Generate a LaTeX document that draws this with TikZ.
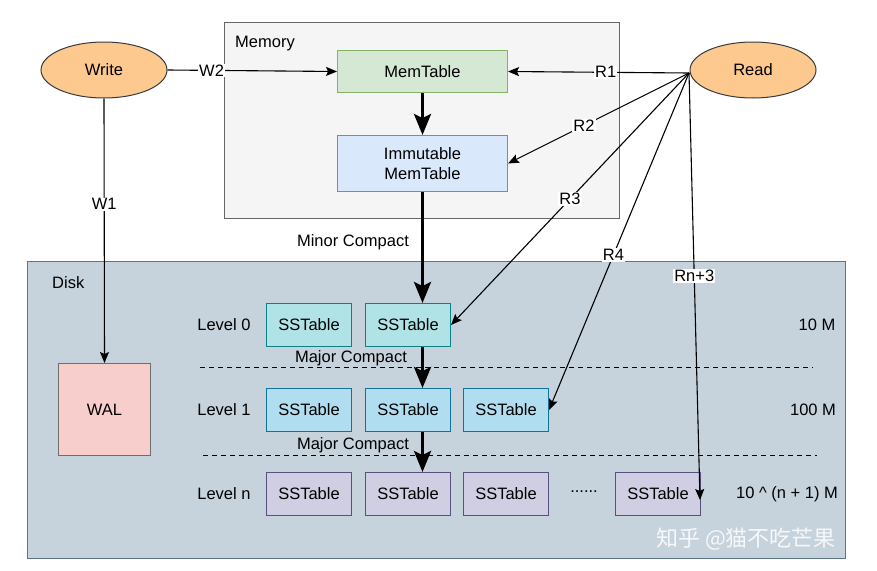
\documentclass[tikz,border=0pt]{standalone}
\usepackage{fontspec}
\setmainfont{Liberation Sans}
\newfontfamily\cjk{Noto Sans CJK SC}
\usetikzlibrary{arrows.meta,shapes.geometric}
\definecolor{memfill}{HTML}{F5F5F5}
\definecolor{memdraw}{HTML}{666666}
\definecolor{greenfill}{HTML}{D5E8D4}
\definecolor{greendraw}{HTML}{82B366}
\definecolor{bluefill}{HTML}{DAE8FC}
\definecolor{bluedraw}{HTML}{6C8EBF}
\definecolor{orangefill}{HTML}{FDC98E}
\definecolor{orangedraw}{HTML}{36393D}
\definecolor{diskfill}{HTML}{C6D2DC}
\definecolor{diskdraw}{HTML}{5C7587}
\definecolor{walfill}{HTML}{F8CECC}
\definecolor{waldraw}{HTML}{6E6E6E}
\definecolor{l0fill}{HTML}{B0E3E6}
\definecolor{l0draw}{HTML}{0E8088}
\definecolor{l1fill}{HTML}{B1DDF0}
\definecolor{l1draw}{HTML}{10739E}
\definecolor{lnfill}{HTML}{D0CEE2}
\definecolor{lndraw}{HTML}{56517E}
\begin{document}
\begin{tikzpicture}[x=1pt,y=-1pt,
  font=\fontsize{16.5}{19.5}\selectfont,
  box/.style={draw, line width=1pt, minimum width=85pt, minimum height=43pt, inner sep=0pt, align=center},
  sst/.style={box, anchor=north west},
  lvl0/.style={sst, fill=l0fill, draw=l0draw},
  lvl1/.style={sst, fill=l1fill, draw=l1draw},
  lvln/.style={sst, fill=lnfill, draw=lndraw},
  ell/.style={ellipse, draw=orangedraw, fill=orangefill, line width=1pt, minimum width=126pt, minimum height=56pt, inner sep=0pt},
  thin/.style={line width=1.1pt, -{Stealth[length=11pt, width=9pt, inset=2pt]}},
  thick/.style={line width=3pt, -{Stealth[length=21pt, width=17pt, inset=4pt]}},
  lab/.style={fill=white, inner sep=1pt},
  plain/.style={inner sep=0pt}
]
\useasboundingbox (0,0) rectangle (877,570);
\fill[white] (0,0) rectangle (877,570);

% containers
\node[draw=memdraw, fill=memfill, line width=1pt, minimum width=395pt, minimum height=196pt, anchor=north west, inner sep=0pt] (memory) at (224,22) {};
\node[plain, anchor=west] (memlabel) at (235,44) {Memory};
\node[draw=diskdraw, fill=diskfill, line width=1pt, minimum width=818pt, minimum height=297pt, anchor=north west, inner sep=0pt] (disk) at (27,261) {};
\node[plain, anchor=west] (disklabel) at (52,283) {Disk};

% memory tables
\node[box, anchor=north west, fill=greenfill, draw=greendraw, minimum width=170pt, minimum height=42pt] (mem) at (337,50) {MemTable};
\node[box, anchor=north west, fill=bluefill, draw=bluedraw, minimum width=170pt, minimum height=56pt] (imm) at (337,135) {Immutable\\MemTable};

% ellipses
\node[ell] (write) at (104,70) {Write};
\node[ell] (read) at (753,70) {Read};

% WAL
\node[box, anchor=north west, fill=walfill, draw=waldraw, minimum width=92pt, minimum height=92pt] (wal) at (58,363) {WAL};

% levels
\node[lvl0] (a0) at (266,303) {SSTable};
\node[lvl0] (b0) at (365,303) {SSTable};
\node[lvl1] (a1) at (266,388) {SSTable};
\node[lvl1] (b1) at (365,388) {SSTable};
\node[lvl1] (c1) at (463,388) {SSTable};
\node[lvln] (an) at (266,472) {SSTable};
\node[lvln] (bn) at (365,472) {SSTable};
\node[lvln] (cn) at (463,472) {SSTable};
\node[lvln] (dn) at (615,472) {SSTable};
\node[plain] (dots) at (584,492) {......};

\node[plain] (lv0) at (224,325) {Level 0};
\node[plain] (lv1) at (224,410) {Level 1};
\node[plain] (lvn) at (224,494) {Level n};
\node[plain] (s0) at (817,325) {10 M};
\node[plain] (s1) at (813,410) {100 M};
\node[plain] (sn) at (787,494) {10 \^{} (n + 1) M};

\draw[dashed, line width=0.9pt, dash pattern=on 5pt off 4pt] (200,367) coordinate (d0a) -- (813,367) coordinate (d0b);
\draw[dashed, line width=0.9pt, dash pattern=on 5pt off 4pt] (203,455) coordinate (d1a) -- (817,455) coordinate (d1b);

% thick flow (vertical at x = 422)
\draw[thick] (mem.south) -- (imm.north);
\draw[thick] (imm.south) -- (imm.south |- b0.north);
\draw[thick] (imm.south |- b0.south) -- (imm.south |- b1.north);
\draw[thick] (imm.south |- b1.south) -- (imm.south |- bn.north);
\node[plain] (minor) at (353,242) {Minor Compact};
\node[plain] (major0) at (351,358) {Major Compact};
\node[plain] (major1) at (353,445) {Major Compact};

% write paths
\draw[thin] (write.east) -- (mem.west) node[lab, pos=0.26] (w2) {W2};
\draw[thin] (write.south) -- (wal.north) node[lab, pos=0.4] (w1) {W1};

% read paths
\coordinate (rd) at (689,73);
\coordinate (rnend) at (700,500);
\draw[thin] (rd) -- (mem.east) node[lab, pos=0.46] (r1) {R1};
\draw[thin] (rd) -- (imm.east) node[lab, pos=0.58] (r2) {R2};
\draw[thin] (rd) -- (b0.east) node[lab, pos=0.5] (r3) {R3};
\draw[thin] (rd) -- (c1.east) node[lab, pos=0.54] (r4) {R4};
\draw[thin] (rd) -- (rnend) node[lab, pos=0.475] (rn) {Rn+3};

% watermark
\node[plain, text=white, opacity=0.85, font=\cjk\fontsize{22}{26}\selectfont] (wm) at (746,539) {知乎 @猫不吃芒果};
\end{tikzpicture}
\end{document}
